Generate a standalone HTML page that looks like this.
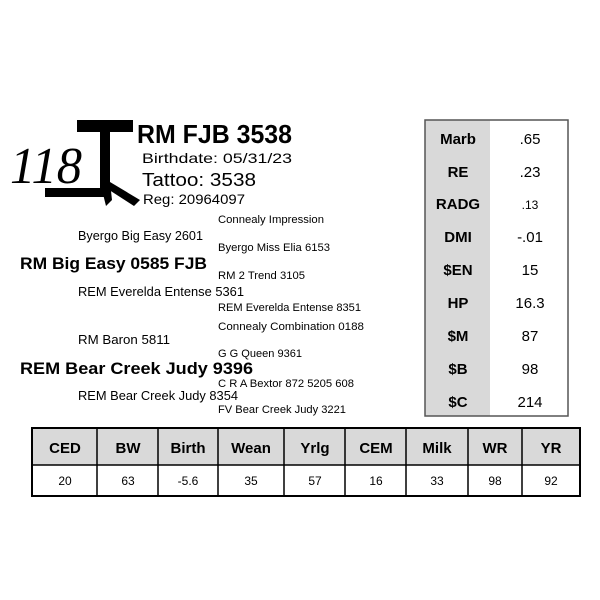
<!DOCTYPE html>
<html><head><meta charset="utf-8"><style>
html,body{margin:0;padding:0;background:#fff;}
svg{display:block;}
text{font-family:"Liberation Sans",sans-serif;fill:#000;}
</style></head><body>
<svg width="600" height="600" viewBox="0 0 600 600" xmlns="http://www.w3.org/2000/svg">
<rect width="600" height="600" fill="#fff"/>
<!-- brand -->
<text x="10" y="183" style="font-family:'Liberation Serif',serif;font-style:italic" font-size="52" textLength="72" lengthAdjust="spacingAndGlyphs">118</text>
<rect x="77" y="120" width="56" height="12" fill="#000"/>
<rect x="100" y="120" width="10" height="70" fill="#000"/>
<rect x="45" y="188" width="62" height="9" fill="#000"/>
<polygon points="100,182 110,182 112,200 106,206" fill="#000"/>
<polygon points="103,186 110,182 140,200 134,206" fill="#000"/>
<!-- header -->
<text x="137" y="143" font-size="26" font-weight="bold" textLength="155" lengthAdjust="spacingAndGlyphs">RM FJB 3538</text>
<text x="142" y="163" font-size="14" textLength="150" lengthAdjust="spacingAndGlyphs">Birthdate:   05/31/23</text>
<text x="142" y="186" font-size="18" textLength="114" lengthAdjust="spacingAndGlyphs">Tattoo:  3538</text>
<text x="143" y="204" font-size="14" textLength="102" lengthAdjust="spacingAndGlyphs">Reg:  20964097</text>
<!-- pedigree -->
<g font-size="11">
<text x="218" y="223" textLength="106" lengthAdjust="spacingAndGlyphs">Connealy Impression</text>
<text x="218" y="251" textLength="112" lengthAdjust="spacingAndGlyphs">Byergo Miss Elia 6153</text>
<text x="218" y="279" textLength="87" lengthAdjust="spacingAndGlyphs">RM 2 Trend 3105</text>
<text x="218" y="311" textLength="143" lengthAdjust="spacingAndGlyphs">REM Everelda Entense 8351</text>
<text x="218" y="330" textLength="146" lengthAdjust="spacingAndGlyphs">Connealy Combination 0188</text>
<text x="218" y="357" textLength="84" lengthAdjust="spacingAndGlyphs">G G Queen 9361</text>
<text x="218" y="387" textLength="136" lengthAdjust="spacingAndGlyphs">C R A Bextor 872 5205 608</text>
<text x="218" y="413" textLength="128" lengthAdjust="spacingAndGlyphs">FV Bear Creek Judy 3221</text>
</g>
<g font-size="12.5">
<text x="78" y="240" textLength="125" lengthAdjust="spacingAndGlyphs">Byergo Big Easy 2601</text>
<text x="78" y="296" textLength="166" lengthAdjust="spacingAndGlyphs">REM Everelda Entense 5361</text>
<text x="78" y="344" textLength="92" lengthAdjust="spacingAndGlyphs">RM Baron 5811</text>
<text x="78" y="400" textLength="160" lengthAdjust="spacingAndGlyphs">REM Bear Creek Judy 8354</text>
</g>
<text x="20" y="269" font-size="17" font-weight="bold" textLength="187" lengthAdjust="spacingAndGlyphs">RM Big Easy 0585 FJB</text>
<text x="20" y="374" font-size="17" font-weight="bold" textLength="233" lengthAdjust="spacingAndGlyphs">REM Bear Creek Judy 9396</text>
<!-- right table -->
<rect x="425" y="120" width="65" height="296" fill="#d9d9d9"/>
<rect x="425" y="120" width="143" height="296" fill="none" stroke="#555" stroke-width="1.5"/>
<g font-size="15" font-weight="bold" text-anchor="middle">
<text x="458" y="144">Marb</text>
<text x="458" y="177">RE</text>
<text x="458" y="209">RADG</text>
<text x="458" y="242">DMI</text>
<text x="458" y="275">$EN</text>
<text x="458" y="308">HP</text>
<text x="458" y="341">$M</text>
<text x="458" y="374">$B</text>
<text x="458" y="407">$C</text>
</g>
<g font-size="15" text-anchor="middle">
<text x="530" y="144">.65</text>
<text x="530" y="177">.23</text>
<text x="530" y="209" font-size="12">.13</text>
<text x="530" y="242">-.01</text>
<text x="530" y="275">15</text>
<text x="530" y="308">16.3</text>
<text x="530" y="341">87</text>
<text x="530" y="374">98</text>
<text x="530" y="407">214</text>
</g>
<!-- bottom table -->
<rect x="32" y="428" width="548" height="37" fill="#d9d9d9"/>
<rect x="32" y="428" width="548" height="68" fill="none" stroke="#000" stroke-width="2"/>
<line x1="32" y1="465" x2="580" y2="465" stroke="#000" stroke-width="1.5"/>
<g stroke="#000" stroke-width="1.5">
<line x1="97" y1="428" x2="97" y2="496"/>
<line x1="158" y1="428" x2="158" y2="496"/>
<line x1="218" y1="428" x2="218" y2="496"/>
<line x1="284" y1="428" x2="284" y2="496"/>
<line x1="345" y1="428" x2="345" y2="496"/>
<line x1="406" y1="428" x2="406" y2="496"/>
<line x1="468" y1="428" x2="468" y2="496"/>
<line x1="522" y1="428" x2="522" y2="496"/>
</g>
<g font-size="15" font-weight="bold" text-anchor="middle">
<text x="65" y="453">CED</text>
<text x="128" y="453">BW</text>
<text x="188" y="453">Birth</text>
<text x="251" y="453">Wean</text>
<text x="315" y="453">Yrlg</text>
<text x="376" y="453">CEM</text>
<text x="437" y="453">Milk</text>
<text x="495" y="453">WR</text>
<text x="551" y="453">YR</text>
</g>
<g font-size="12" text-anchor="middle">
<text x="65" y="485">20</text>
<text x="128" y="485">63</text>
<text x="188" y="485">-5.6</text>
<text x="251" y="485">35</text>
<text x="315" y="485">57</text>
<text x="376" y="485">16</text>
<text x="437" y="485">33</text>
<text x="495" y="485">98</text>
<text x="551" y="485">92</text>
</g>
</svg>
</body></html>
